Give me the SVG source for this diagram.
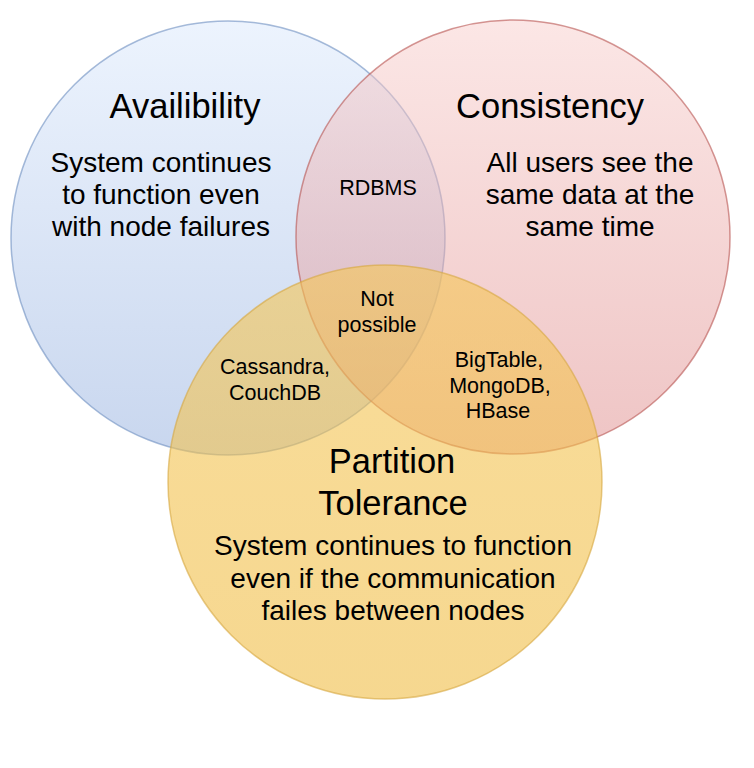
<svg xmlns="http://www.w3.org/2000/svg" width="754" height="768" viewBox="0 0 754 768">
<style>
text { font-family: "Liberation Sans", Arial, Helvetica, sans-serif; fill: #000; text-anchor: middle; }
.title { font-size: 34.5px; }
.body { font-size: 28px; }
.small { font-size: 21.5px; }
</style>
<defs>
<linearGradient id="gBlue" x1="0" y1="0" x2="0" y2="1">
<stop offset="0" stop-color="#dae8fc"/>
<stop offset="1" stop-color="#92aede"/>
</linearGradient>
<linearGradient id="gRed" x1="0" y1="0" x2="0" y2="1">
<stop offset="0" stop-color="#f8cecc"/>
<stop offset="1" stop-color="#de8a8a"/>
</linearGradient>
<linearGradient id="gYellow" x1="0" y1="0" x2="0" y2="1">
<stop offset="0" stop-color="#f5c655"/>
<stop offset="1" stop-color="#f0bd45"/>
</linearGradient>
</defs>
<rect width="754" height="768" fill="#ffffff"/>
<g id="availability">
<circle cx="228" cy="238" r="217" fill="url(#gBlue)" fill-opacity="0.5" stroke="#6c8ebf" stroke-opacity="0.6" stroke-width="1.5"/>
</g>
<g id="consistency">
<circle cx="513" cy="237" r="217" fill="url(#gRed)" fill-opacity="0.5" stroke="#b85450" stroke-opacity="0.6" stroke-width="1.5"/>
</g>
<g id="partition">
<circle cx="385" cy="482" r="217" fill="url(#gYellow)" fill-opacity="0.6" stroke="#d6a640" stroke-opacity="0.6" stroke-width="1.5"/>
</g>
<g id="connectors"></g>
<g id="labels">
<text class="title" x="185" y="118">Availibility</text>
<text class="body" x="161" y="172">System continues</text>
<text class="body" x="161" y="204">to function even</text>
<text class="body" x="161" y="236">with node failures</text>
<text class="title" x="550" y="118">Consistency</text>
<text class="body" x="590" y="172">All users see the</text>
<text class="body" x="590" y="204">same data at the</text>
<text class="body" x="590" y="236">same time</text>
<text class="small" x="378" y="195">RDBMS</text>
<text class="small" x="377" y="306">Not</text>
<text class="small" x="377" y="332">possible</text>
<text class="small" x="275" y="374">Cassandra,</text>
<text class="small" x="275" y="400">CouchDB</text>
<text class="small" x="499" y="367">BigTable,</text>
<text class="small" x="500" y="393">MongoDB,</text>
<text class="small" x="498" y="418">HBase</text>
<text class="title" x="392" y="473">Partition</text>
<text class="title" x="393" y="515">Tolerance</text>
<text class="body" x="393" y="555">System continues to function</text>
<text class="body" x="393" y="588">even if the communication</text>
<text class="body" x="393" y="620">failes between nodes</text>
</g>
</svg>
